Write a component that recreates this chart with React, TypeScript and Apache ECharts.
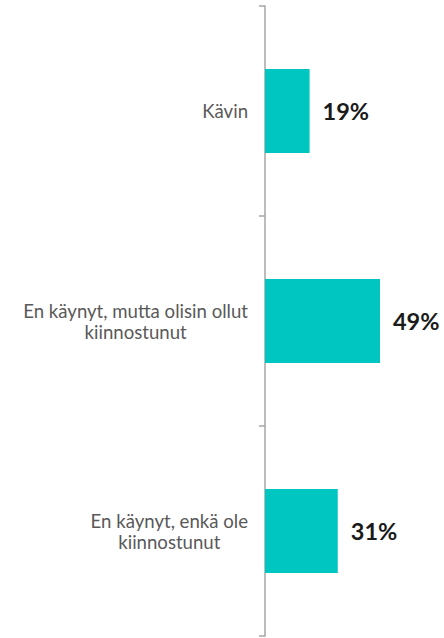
import React, { useEffect, useRef } from "react";
import * as echarts from "echarts";

const categories = [
  "Kävin",
  "En käynyt, mutta olisin ollut\nkiinnostunut",
  "En käynyt, enkä ole\nkiinnostunut",
];
const values = [19, 49, 31];

export default function App() {
  const ref = useRef<HTMLDivElement>(null);
  useEffect(() => {
    const chart = echarts.init(ref.current!, undefined, { renderer: "svg" });
    chart.setOption({
      animation: false,
      grid: { left: 265, right: 3, top: 6, bottom: 2, containLabel: false },
      xAxis: {
        type: "value",
        min: 0,
        max: 75,
        show: false,
      },
      yAxis: {
        type: "category",
        data: categories,
        inverse: true,
        axisLine: { show: true, lineStyle: { color: "#A6A6A6", width: 1.5 } },
        axisTick: { show: true, length: 6, lineStyle: { color: "#A6A6A6", width: 1.5 } },
        axisLabel: {
          margin: 17,
          formatter: (v: string) =>
            v
              .split("\n")
              .map((l) => "{c|" + l + "}")
              .join("\n"),
          rich: {
            c: {
              align: "center",
              fontFamily: "Lato",
              fontSize: 18.6,
              color: "#595959",
              lineHeight: 21,
            },
          },
        },
        splitLine: { show: false },
      },
      series: [
        {
          type: "bar",
          data: values,
          barCategoryGap: "60%",
          itemStyle: { color: "#00C6C1" },
          label: {
            show: true,
            position: "right",
            distance: 13,
            formatter: "{c}%",
            fontFamily: "Lato",
            fontWeight: "bold",
            fontSize: 23.5,
            color: "#1A1A1A",
          },
        },
      ],
    });
    return () => chart.dispose();
  }, []);
  return (
    <div
      ref={ref}
      style={{ position: "fixed", left: 0, top: 0, width: 444, height: 638, background: "#fff" }}
    />
  );
}
